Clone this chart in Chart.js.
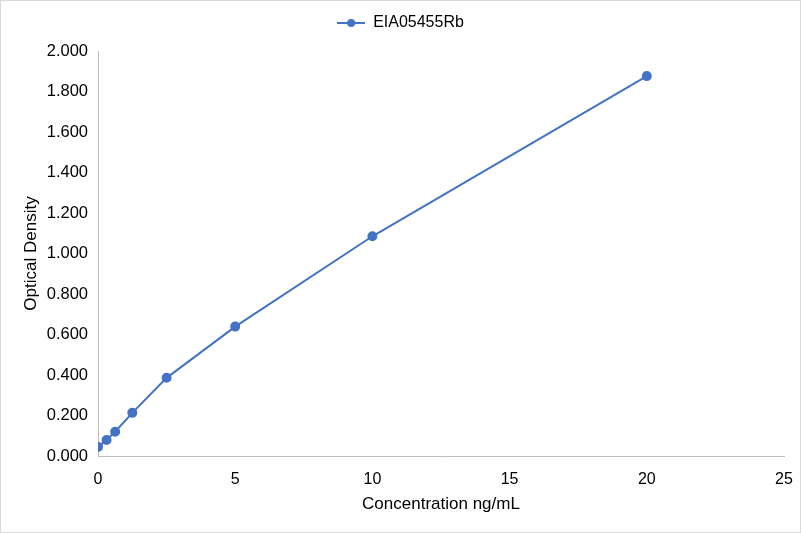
<!DOCTYPE html>
<html>
<head>
<meta charset="utf-8">
<script src="https://cdn.jsdelivr.net/npm/chart.js@4/dist/chart.umd.min.js"></script>
<style>
  body { margin: 0; background: #fff; }
  #wrap { width: 801px; height: 533px; box-sizing: border-box; border: 1px solid #d9d9d9; }
  canvas { display: block; }
</style>
</head>
<body>
<div id="wrap"><canvas id="curve" width="799" height="531"></canvas></div>
<script>
// Standard curve data
const concentrations = [0, 0.3125, 0.625, 1.25, 2.5, 5, 10, 20];
const densities = [0.045, 0.079, 0.120, 0.213, 0.386, 0.639, 1.085, 1.876];
const seriesName = 'EIA05455Rb';
const xTicks = [0, 5, 10, 15, 20, 25];
const yTicks = [0, 0.2, 0.4, 0.6, 0.8, 1.0, 1.2, 1.4, 1.6, 1.8, 2.0];

const lineColor = '#4472C4';
const axisColor = '#bfbfbf';
const textColor = '#000000';
const fontFamily = '"Liberation Sans", Arial, sans-serif';

// Legend marker: short line with a dot on it
function makeLegendMarker() {
  const c = document.createElement('canvas');
  c.width = 28;
  c.height = 10;
  const g = c.getContext('2d');
  g.strokeStyle = lineColor;
  g.lineWidth = 2;
  g.beginPath();
  g.moveTo(0, 5);
  g.lineTo(28, 5);
  g.stroke();
  g.fillStyle = lineColor;
  g.beginPath();
  g.arc(14, 5, 4, 0, Math.PI * 2);
  g.fill();
  return c;
}
const legendMarker = makeLegendMarker();

// Give the legend some extra room below it and nudge it right
const legendSpacer = {
  id: 'legendSpacer',
  afterInit: function(chart) {
    const legend = chart.legend;
    if (!legend) return;
    const origFit = legend.fit;
    legend.fit = function() {
      origFit.call(this);
      this.height += 10;
    };
  },
  afterLayout: function(chart) {
    if (!chart.legend) return;
    chart.legend.left += 8;
    chart.legend.right += 8;
  }
};

const ctx = document.getElementById('curve').getContext('2d');
new Chart(ctx, {
  type: 'line',
  data: {
    datasets: [{
      label: seriesName,
      data: concentrations.map((x, i) => ({ x: x, y: densities[i] })),
      borderColor: lineColor,
      backgroundColor: lineColor,
      borderWidth: 2,
      pointRadius: 4,
      pointBackgroundColor: lineColor,
      pointBorderColor: lineColor,
      tension: 0,
      fill: false
    }]
  },
  plugins: [legendSpacer],
  options: {
    responsive: false,
    animation: false,
    layout: { padding: { left: 0, right: 16, top: 0, bottom: 0 } },
    plugins: {
      legend: {
        position: 'top',
        labels: {
          color: textColor,
          font: { family: fontFamily, size: 16 },
          usePointStyle: true,
          pointStyleWidth: 28,
          padding: 14,
          generateLabels: function(chart) {
            return chart.data.datasets.map((ds, i) => ({
              text: ds.label,
              fillStyle: lineColor,
              strokeStyle: lineColor,
              lineWidth: 0,
              pointStyle: legendMarker,
              datasetIndex: i,
              hidden: false
            }));
          }
        }
      },
      tooltip: { enabled: false }
    },
    scales: {
      x: {
        type: 'linear',
        min: 0,
        max: 25,
        afterBuildTicks: function(axis) {
          axis.ticks = xTicks.map(v => ({ value: v }));
        },
        grid: { display: false, drawTicks: false },
        border: { display: true, color: axisColor, width: 1 },
        ticks: {
          color: textColor,
          padding: 14,
          font: { family: fontFamily, size: 16 }
        },
        title: {
          display: true,
          text: 'Concentration ng/mL',
          color: textColor,
          font: { family: fontFamily, size: 17 },
          padding: { top: 8, bottom: 17 }
        },
        afterFit: function(axis) {
          axis.height = 76;
          axis.paddingLeft = 0;
          axis.paddingRight = 0;
        }
      },
      y: {
        min: 0,
        max: 2,
        afterBuildTicks: function(axis) {
          axis.ticks = yTicks.map(v => ({ value: v }));
        },
        grid: { display: false, drawTicks: false },
        border: { display: true, color: axisColor, width: 1 },
        ticks: {
          color: textColor,
          padding: 10,
          font: { family: fontFamily, size: 16.5 },
          callback: function(value) { return Number(value).toFixed(3); }
        },
        title: {
          display: true,
          text: 'Optical Density',
          color: textColor,
          font: { family: fontFamily, size: 17 },
          padding: { top: 20, bottom: 8 }
        },
        afterFit: function(axis) { axis.width = 97; }
      }
    }
  }
});
</script>
</body>
</html>
